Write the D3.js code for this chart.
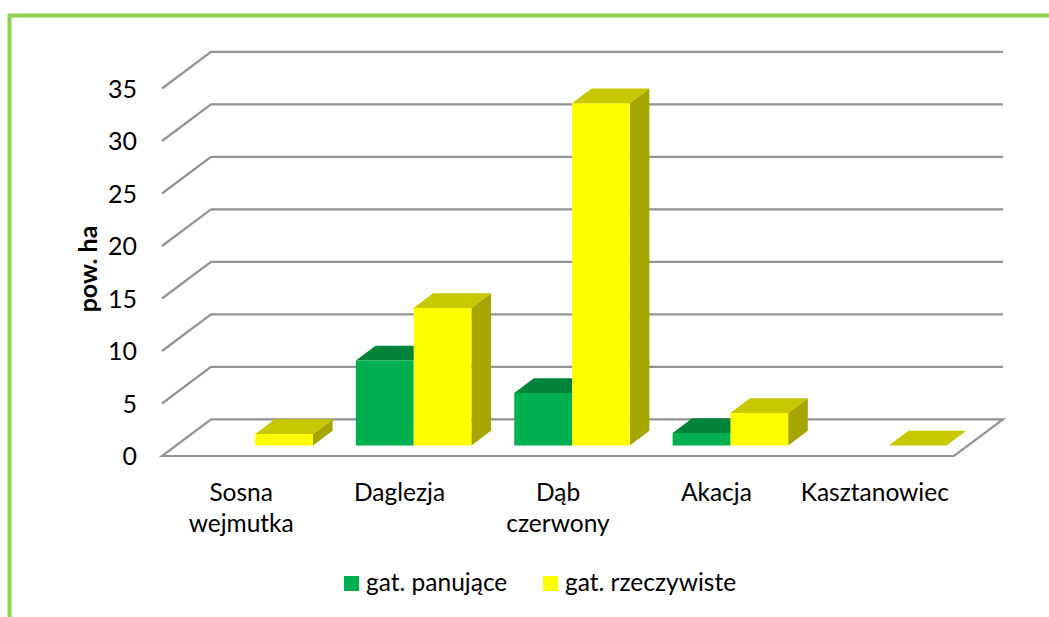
<!DOCTYPE html>
<html>
<head>
<meta charset="utf-8">
<script src="https://cdn.jsdelivr.net/npm/d3@7/dist/d3.min.js"></script>
<style>
  html, body { margin: 0; padding: 0; background: #fff; }
  svg { display: block; }
  text { font-family: Lato, "Open Sans", sans-serif; fill: #000; }
</style>
</head>
<body>
<svg id="chart" width="1049" height="617"></svg>
<script>
// Forest area by species (pow. ha)
const categories = [["Sosna", "wejmutka"], ["Daglezja"], ["Dąb", "czerwony"], ["Akacja"], ["Kasztanowiec"]];
const seriesNames = ["gat. panujące", "gat. rzeczywiste"];
const panujace = [null, 8.1, 5.0, 1.2, null];
const rzeczywiste = [1.1, 13.1, 32.6, 3.1, 0];
const yTicks = [0, 5, 10, 15, 20, 25, 30, 35];

const svg = d3.select("#chart");

// oblique 3D projection: depth 0 = front of floor, 1 = back wall
const depthDX = 49, depthDY = -36.7;
const barDepth = [0.286, 0.686];

const catKeys = categories.map(c => c.join(" "));
const x0 = d3.scaleBand().domain(catKeys).range([162, 954]).padding(0);
const x1 = d3.scaleBand().domain(seriesNames).range([0, x0.bandwidth()])
  .paddingInner(0).paddingOuter(0.371);
const y = d3.scaleLinear().domain([0, 35]).range([456, 88.5]);

const P = (x, v, d) => [x + d * depthDX, y(v) + d * depthDY];
const poly = pts => "M" + pts.map(p => p.join(",")).join("L") + "Z";

// frame (left and top edges)
svg.append("path")
  .attr("d", "M9.5,617 L9.5,15.5 L1049,15.5")
  .attr("fill", "none").attr("stroke", "#92d050").attr("stroke-width", 4);

const gridColor = "#939393";

// floor
const xL = x0.range()[0], xR = x0.range()[1];
svg.append("path")
  .attr("d", poly([P(xL, 0, 0), P(xR, 0, 0), P(xR, 0, 1), P(xL, 0, 1)]))
  .attr("fill", "#fff").attr("stroke", gridColor).attr("stroke-width", 2.2)
  .attr("stroke-linejoin", "miter");

// gridlines on side and back wall
const grid = svg.append("g");
yTicks.filter(t => t > 0).forEach(t => {
  grid.append("path")
    .attr("d", "M" + P(xL, t, 0).join(",") + "L" + P(xL, t, 1).join(",") + "L" + P(xR, t, 1).join(","))
    .attr("fill", "none").attr("stroke", gridColor).attr("stroke-width", 2.2);
});

// y tick labels
svg.append("g").selectAll("text").data(yTicks).join("text")
  .attr("x", 137).attr("y", d => y(d))
  .attr("dy", "0.36em")
  .attr("text-anchor", "end")
  .attr("font-size", 25)
  .text(d => d);

// y axis title
svg.append("text")
  .attr("transform", "translate(97,269) rotate(-90)")
  .attr("text-anchor", "middle")
  .attr("font-size", 25).attr("font-weight", "bold")
  .text("pow. ha");

// bars
const palette = {
  "gat. panujące": { front: "#00b050", top: "#00843c", side: "#00843c" },
  "gat. rzeczywiste": { front: "#ffff00", top: "#c8c800", side: "#a6a600" }
};
const seriesValues = { "gat. panujące": panujace, "gat. rzeczywiste": rzeczywiste };

const bars = [];
catKeys.forEach((c, i) => {
  seriesNames.forEach(s => {
    const v = seriesValues[s][i];
    if (v === null) return;
    bars.push({ x: x0(c) + x1(s), w: x1.bandwidth(), v, s });
  });
});

const barG = svg.append("g");
bars.forEach(b => {
  const [d1, d2] = barDepth;
  const c = palette[b.s];
  const g = barG.append("g");
  // right side face
  g.append("path")
    .attr("d", poly([P(b.x + b.w, 0, d1), P(b.x + b.w, 0, d2), P(b.x + b.w, b.v, d2), P(b.x + b.w, b.v, d1)]))
    .attr("fill", c.side);
  // top face
  g.append("path")
    .attr("d", poly([P(b.x, b.v, d1), P(b.x + b.w, b.v, d1), P(b.x + b.w, b.v, d2), P(b.x, b.v, d2)]))
    .attr("fill", c.top);
  // front face
  if (b.v > 0) {
    g.append("path")
      .attr("d", poly([P(b.x, 0, d1), P(b.x + b.w, 0, d1), P(b.x + b.w, b.v, d1), P(b.x, b.v, d1)]))
      .attr("fill", c.front);
  }
});

// category labels
const catG = svg.append("g");
categories.forEach((lines, i) => {
  const cx = x0(catKeys[i]) + x0.bandwidth() / 2;
  const t = catG.append("text")
    .attr("text-anchor", "middle")
    .attr("font-size", 24.5);
  lines.forEach((ln, j) => {
    t.append("tspan").attr("x", cx).attr("y", 501 + j * 31).text(ln);
  });
});

// legend
const legend = svg.append("g");
const legendItems = [
  { name: seriesNames[0], color: palette[seriesNames[0]].front, x: 344 },
  { name: seriesNames[1], color: palette[seriesNames[1]].front, x: 543 }
];
legendItems.forEach(it => {
  legend.append("rect").attr("x", it.x).attr("y", 576).attr("width", 15).attr("height", 15)
    .attr("fill", it.color);
  legend.append("text").attr("x", it.x + 22).attr("y", 591)
    .attr("font-size", 24.5).text(it.name);
});
</script>
</body>
</html>
